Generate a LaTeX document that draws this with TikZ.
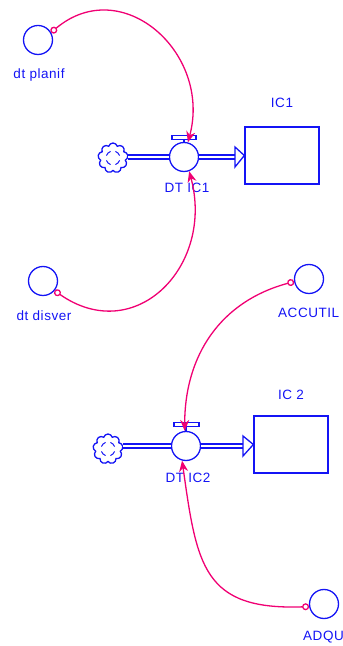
\documentclass[tikz,border=0pt]{standalone}
\usepackage{fontspec}
\setmainfont{Liberation Sans}[LetterSpace=4]
\usetikzlibrary{arrows.meta,shapes.symbols}
\definecolor{flowblue}{RGB}{20,20,245}
\definecolor{linkpink}{RGB}{240,0,115}
\tikzset{
    aux/.style={circle,draw=flowblue,line width=1.3pt,minimum size=29pt,inner sep=0pt},
    valve/.style={circle,draw=flowblue,line width=1.3pt,minimum size=29pt,inner sep=0pt,fill=white},
    stock/.style={rectangle,draw=flowblue,line width=1.3pt,minimum width=74pt,minimum height=57pt,inner sep=0pt},
    source/.style={cloud,cloud puffs=9,aspect=1,draw=flowblue,line width=1.3pt,minimum size=30pt,inner sep=0pt},
    lbl/.style={text=flowblue,font=\fontsize{13.5}{15}\selectfont,inner sep=0pt},
    pipe/.style={draw=flowblue,line width=1.4pt,double=white,double distance=2.4pt},
    link/.style={draw=linkpink,line width=1.3pt,{Circle[open,length=7pt,width=7pt]}-{Stealth[length=11pt,width=9pt]}},
}
\begin{document}
\begin{tikzpicture}[x=1pt,y=1pt]
\useasboundingbox (0,0) rectangle (343,646);
\clip (0,0) rectangle (343,646);

% first flow
\node[source] (c1) at (113,488) {};
\node[valve] (v1) at (184,489) {};
\node[stock] (ic1) at (282,490.5) {};
\coordinate (h1) at (235,489);
\draw[pipe] (c1.east |- v1.west) -- (v1.west);
\draw[pipe] (v1.east) -- (h1);
\draw[flowblue,line width=1.3pt,fill=white] (235,499) -- (ic1.west) -- (235,479) -- cycle;
\draw[flowblue,line width=1.1pt] (v1.north) -- ++(0,4);
\draw[flowblue,line width=1.1pt,fill=white] (172,506.5) rectangle (196,510.5);

\node[lbl] (l_ic1) at (282,543) {IC1};
\node[lbl] (l_v1) at (187,458) {DT IC1};

\node[aux] (planif) at (38,606) {};
\node[lbl] (l_planif) at (39,571) {dt planif};
\node[aux] (disver) at (43,365) {};
\node[lbl] (l_disver) at (44,330) {dt disver};

% second flow
\node[source] (c2) at (108,197) {};
\node[valve] (v2) at (186,200) {};
\node[stock] (ic2) at (291,201.5) {};
\coordinate (h2) at (243,200);
\draw[pipe] (c2.east |- v2.west) -- (v2.west);
\draw[pipe] (v2.east) -- (h2);
\draw[flowblue,line width=1.3pt,fill=white] (243,210) -- (ic2.west) -- (243,190) -- cycle;
\draw[flowblue,line width=1.1pt] (v2.north) -- ++(0,6);
\draw[flowblue,line width=1.1pt,fill=white] (174,219.5) rectangle (199,223.5);

\node[lbl] (l_ic2) at (291,251) {IC 2};
\node[lbl] (l_v2) at (188,168) {DT IC2};

\node[aux] (accutil) at (309,367) {};
\node[lbl,anchor=west] (l_accutil) at (278,333) {ACCUTIL};
\node[aux] (adqu) at (324,42) {};
\node[lbl,anchor=west] (l_adqu) at (303,9) {ADQU};

% cloud swirls
\foreach \c in {c1,c2} {
    \foreach \a in {20,110,200,290} {
        \draw[flowblue,line width=1pt] ([shift={(\a:7pt)}]\c.center) arc[start angle=\a,end angle=\a+50,radius=7pt];
    }
}

% links
\draw[link] (planif.30) to[out=40,in=75,looseness=1.35] (v1.75);
\draw[link] (disver.-40) to[out=-35,in=-75,looseness=1.4] (v1.-70);
\draw[link] (accutil.190) to[out=195,in=90,looseness=1.05] (v2.95);
\draw[link] (adqu.190) to[out=182,in=-82,looseness=1.4] (v2.-105);
\end{tikzpicture}
\end{document}
